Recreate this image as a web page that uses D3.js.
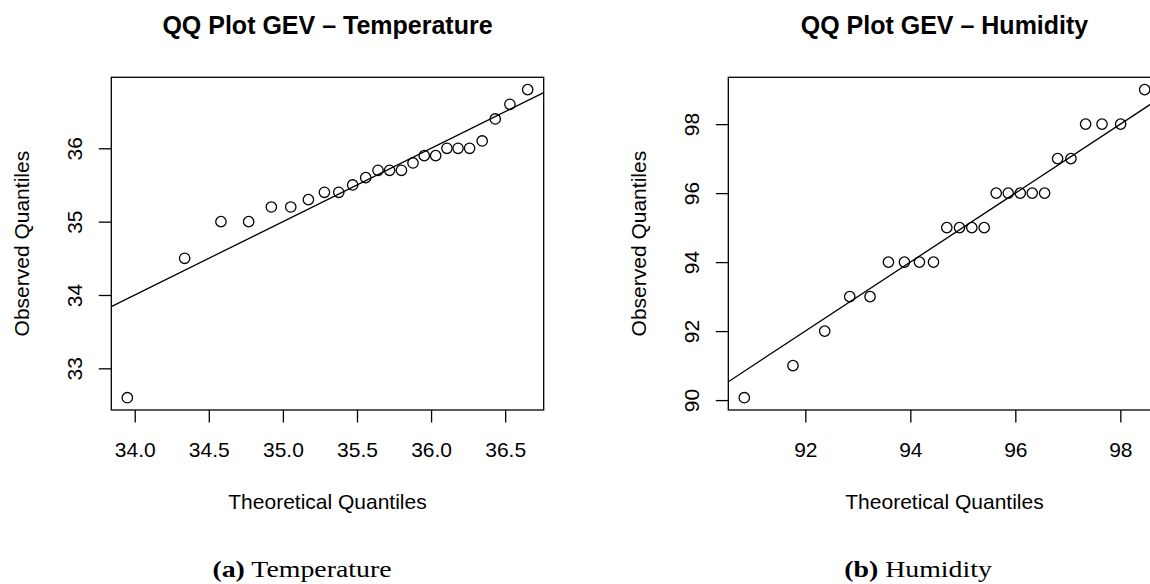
<!DOCTYPE html>
<html>
<head>
<meta charset="utf-8">
<script src="https://cdn.jsdelivr.net/npm/d3@7"></script>
<style>
  body { margin: 0; background: #fff; }
  text { font-family: "Liberation Sans", Arial, sans-serif; fill: #000; }
  .caption { font-family: "Liberation Serif", "Times New Roman", serif; }
</style>
</head>
<body>
<svg class="chart"></svg>
<script>
// data
const tempTheoretical = [33.95, 34.337, 34.582, 34.769, 34.922, 35.053, 35.172, 35.28,
  35.377, 35.471, 35.559, 35.642, 35.72, 35.80, 35.878, 35.954, 36.031, 36.107,
  36.182, 36.26, 36.345, 36.433, 36.532, 36.652];
const tempObserved = [32.6, 34.5, 35.0, 35.0, 35.2, 35.2, 35.3, 35.4, 35.4, 35.5, 35.6,
  35.7, 35.7, 35.7, 35.8, 35.9, 35.9, 36.0, 36.0, 36.0, 36.1, 36.4, 36.6, 36.8];

const humTheoretical = [90.838, 91.765, 92.369, 92.846, 93.233, 93.583, 93.888, 94.174,
  94.441, 94.695, 94.937, 95.172, 95.407, 95.636, 95.865, 96.094, 96.322, 96.558,
  96.805, 97.059, 97.339, 97.651, 98.006, 98.464];
const humObserved = [90.07, 91, 92, 93, 93, 94, 94, 94, 94, 95, 95, 95, 95, 96, 96, 96,
  96, 96, 97, 97, 98, 98, 98, 99];

// tick labels
const tempXTicks = [34.0, 34.5, 35.0, 35.5, 36.0, 36.5];
const tempYTicks = [33, 34, 35, 36];
const humXTicks = [92, 94, 96, 98];
const humYTicks = [90, 92, 94, 96, 98];

// reference line y = intercept + slope * x
const refIntercept = 0;
const refSlope = 1;

// texts
const titles = ["QQ Plot GEV \u2013 Temperature", "QQ Plot GEV \u2013 Humidity"];
const xLabel = "Theoretical Quantiles";
const yLabel = "Observed Quantiles";
const captionTags = ["(a)", "(b)"];
const captionNames = ["Temperature", "Humidity"];

const width = 1150,
      height = 584;

const chart = d3.select(".chart")
  .attr("width", width)
  .attr("height", height);

// plot box size, same for both panels
const boxW = 432.4,
      boxH = 332.7,
      boxTop = 77.3,
      tickLen = 12.5;

// R style axis range: data extent plus 4% on each side
function padded(values) {
  const [lo, hi] = d3.extent(values);
  const r = hi - lo;
  return [lo - 0.04 * r, hi + 0.04 * r];
}

function drawPanel(i, left, xs, ys, xTicks, yTicks, xFormat, captionX) {
  const x = d3.scaleLinear().domain(padded(xs)).range([left, left + boxW]);
  const y = d3.scaleLinear().domain(padded(ys)).range([boxTop + boxH, boxTop]);

  const g = chart.append("g");

  g.append("clipPath")
      .attr("id", "clip" + i)
    .append("rect")
      .attr("x", left)
      .attr("y", boxTop)
      .attr("width", boxW)
      .attr("height", boxH);

  // reference line
  const [x0, x1] = x.domain();
  g.append("line")
    .attr("clip-path", `url(#clip${i})`)
    .attr("x1", x(x0))
    .attr("y1", y(refIntercept + refSlope * x0))
    .attr("x2", x(x1))
    .attr("y2", y(refIntercept + refSlope * x1))
    .attr("stroke", "#000")
    .attr("stroke-width", 1.3);

  // points
  g.selectAll("circle")
    .data(xs)
    .enter()
    .append("circle")
      .attr("cx", d => x(d))
      .attr("cy", (d, k) => y(ys[k]))
      .attr("r", 5.2)
      .attr("fill", "none")
      .attr("stroke", "#000")
      .attr("stroke-width", 1.3);

  // box
  g.append("rect")
    .attr("x", left)
    .attr("y", boxTop)
    .attr("width", boxW)
    .attr("height", boxH)
    .attr("fill", "none")
    .attr("stroke", "#000")
    .attr("stroke-width", 1.3);

  // x axis
  const xAxis = d3.axisBottom(x)
    .tickValues(xTicks)
    .tickFormat(xFormat)
    .tickSize(tickLen)
    .tickPadding(0);

  const gx = g.append("g")
    .attr("transform", `translate(0,${boxTop + boxH})`)
    .call(xAxis);
  gx.select(".domain").remove();
  gx.selectAll("line").attr("stroke", "#000").attr("stroke-width", 1.3);
  gx.selectAll("text")
    .attr("y", 47.3)
    .attr("dy", null)
    .style("font-size", "21px");

  // y axis, labels turned like R does
  const yAxis = d3.axisLeft(y)
    .tickValues(yTicks)
    .tickFormat(d3.format("d"))
    .tickSize(tickLen);

  const gy = g.append("g")
    .attr("transform", `translate(${left},0)`)
    .call(yAxis);
  gy.select(".domain").remove();
  gy.selectAll("line").attr("stroke", "#000").attr("stroke-width", 1.3);
  gy.selectAll("text")
    .attr("x", null)
    .attr("dy", null)
    .attr("transform", "translate(-29.8,0) rotate(-90)")
    .attr("text-anchor", "middle")
    .style("font-size", "21px");

  // titles and labels
  const cx = left + boxW / 2;
  g.append("text")
    .attr("x", cx)
    .attr("y", 34)
    .attr("text-anchor", "middle")
    .style("font-size", "25px")
    .style("font-weight", "bold")
    .text(titles[i]);

  g.append("text")
    .attr("x", cx)
    .attr("y", boxTop + boxH + 99.3)
    .attr("text-anchor", "middle")
    .style("font-size", "21px")
    .text(xLabel);

  g.append("text")
    .attr("transform", `translate(${left - 82},${boxTop + boxH / 2}) rotate(-90)`)
    .attr("text-anchor", "middle")
    .style("font-size", "21px")
    .text(yLabel);

  // subfigure caption, stretched a bit to look like the wider LaTeX face
  const cap = g.append("text")
    .attr("class", "caption")
    .attr("transform", `translate(${captionX},577) scale(1.16,1)`)
    .attr("text-anchor", "middle")
    .style("font-size", "24px");
  cap.append("tspan").style("font-weight", "bold").text(captionTags[i]);
  cap.append("tspan").text(" " + captionNames[i]);
}

drawPanel(0, 111.3, tempTheoretical, tempObserved, tempXTicks, tempYTicks, d3.format(".1f"), 302);
drawPanel(1, 728.3, humTheoretical, humObserved, humXTicks, humYTicks, d3.format("d"), 918);
</script>
</body>
</html>
